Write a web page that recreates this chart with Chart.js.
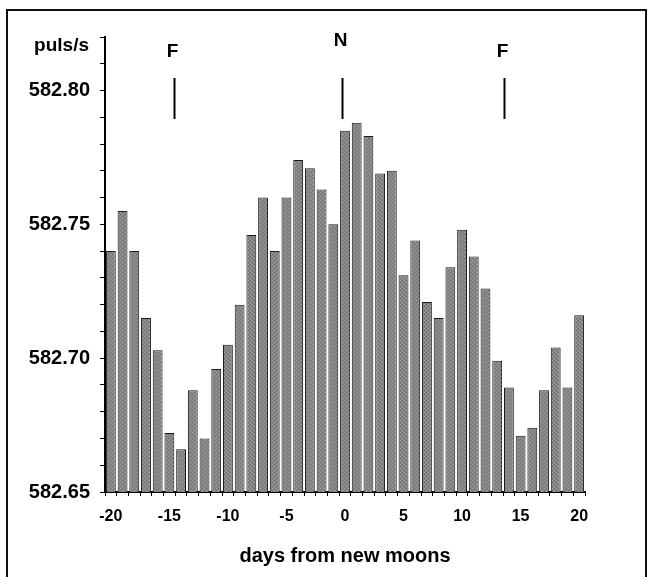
<!DOCTYPE html>
<html>
<head>
<meta charset="utf-8">
<script src="https://cdn.jsdelivr.net/npm/chart.js@4/dist/chart.umd.min.js"></script>
<style>
    html, body { margin: 0; padding: 0; background: #fff; overflow: hidden; }
    #wrap { position: relative; width: 651px; height: 577px; }
    #frame { position: absolute; left: 6px; top: 9px; width: 641px; height: 600px; border: 2px solid #111; box-sizing: border-box; pointer-events: none; }
    canvas { position: absolute; left: 0; top: 0; }
</style>
</head>
<body>
<div id="wrap">
    <canvas id="chart" width="651" height="577"></canvas>
    <div id="frame"></div>
</div>
<script>
// days from new moon
const days = [-20, -19, -18, -17, -16, -15, -14, -13, -12, -11, -10, -9, -8, -7, -6, -5, -4, -3, -2, -1,
    0, 1, 2, 3, 4, 5, 6, 7, 8, 9, 10, 11, 12, 13, 14, 15, 16, 17, 18, 19, 20];

// pulsar rate, puls/s
const pulseRate = [582.740, 582.755, 582.740, 582.715, 582.703, 582.672, 582.666, 582.688, 582.670, 582.696,
    582.705, 582.720, 582.746, 582.760, 582.740, 582.760, 582.774, 582.771, 582.763, 582.750,
    582.785, 582.788, 582.783, 582.769, 582.770, 582.731, 582.744, 582.721, 582.715, 582.734,
    582.748, 582.738, 582.726, 582.699, 582.689, 582.671, 582.674, 582.688, 582.704, 582.689,
    582.716];

const xTickLabels = [-20, -15, -10, -5, 0, 5, 10, 15, 20];
const yTickLabels = [582.65, 582.70, 582.75, 582.80];

// moon phase markers (full / new)
const markerDays = [-14.6, -0.25, 13.55];
const markerLabels = ['F', 'N', 'F'];

const FONT = "'Liberation Sans', Arial, sans-serif";

// dithered grey fill like the scanned bars
function barPattern() {
    const c = document.createElement('canvas');
    c.width = 4;
    c.height = 4;
    const g = c.getContext('2d');
    g.fillStyle = '#858585';
    g.fillRect(0, 0, 4, 4);
    g.fillStyle = '#a0a0a0';
    g.fillRect(0, 0, 1, 1);
    g.fillRect(2, 2, 1, 1);
    g.fillStyle = '#6e6e6e';
    g.fillRect(2, 0, 1, 1);
    g.fillRect(0, 2, 1, 1);
    return g.createPattern(c, 'repeat');
}

const markersPlugin = {
    id: 'moonMarkers',
    afterDatasetsDraw(chart) {
        const {ctx, scales: {x}} = chart;
        ctx.save();
        ctx.strokeStyle = '#000';
        ctx.fillStyle = '#000';
        ctx.lineWidth = 2;
        ctx.textAlign = 'center';
        ctx.textBaseline = 'middle';
        markerDays.forEach((d, i) => {
            const px = Math.round(x.getPixelForValue(d - days[0])) + 0.5;
            ctx.beginPath();
            ctx.moveTo(px, 78);
            ctx.lineTo(px, 119);
            ctx.stroke();
            ctx.font = 'bold 19px ' + FONT;
            ctx.fillText(markerLabels[i], px - 2, markerLabels[i] === 'N' ? 41 : 52);
        });
        // y axis unit, placed above the value labels
        ctx.textAlign = 'right';
        ctx.font = 'bold 19px ' + FONT;
        ctx.fillText('puls/s', 89, 46);
        ctx.restore();
    }
};

new Chart(document.getElementById('chart'), {
    type: 'bar',
    data: {
        labels: days,
        datasets: [{
            data: pulseRate,
            backgroundColor: barPattern(),
            borderColor: '#1a1a1a',
            borderWidth: 1,
            barPercentage: 0.84,
            categoryPercentage: 1.0
        }]
    },
    options: {
        responsive: false,
        animation: false,
        devicePixelRatio: 1,
        layout: {padding: {top: 37, right: 66, left: 0, bottom: 0}},
        plugins: {legend: {display: false}, tooltip: {enabled: false}},
        scales: {
            x: {
                afterFit: (s) => { s.height = 85; },
                grid: {drawOnChartArea: false, tickLength: 4, color: '#000', lineWidth: 1},
                border: {color: '#000', width: 2},
                ticks: {
                    autoSkip: false,
                    maxRotation: 0,
                    padding: 11,
                    color: '#000',
                    font: {family: FONT, size: 16, weight: 'bold'},
                    callback: (v, i) => xTickLabels.includes(days[i]) ? String(days[i]) : ''
                },
                title: {
                    display: true,
                    text: 'days from new moons',
                    color: '#000',
                    font: {family: FONT, size: 20, weight: 'bold'},
                    padding: {top: 0, bottom: 9}
                }
            },
            y: {
                min: 582.65,
                max: 582.82,
                afterFit: (s) => { s.width = 105; },
                grid: {drawOnChartArea: false, tickLength: 5, color: '#000', lineWidth: 1},
                border: {color: '#000', width: 2},
                ticks: {
                    stepSize: 0.01,
                    autoSkip: false,
                    padding: 10,
                    color: '#000',
                    font: {family: FONT, size: 20, weight: 'bold'},
                    callback: (v) => yTickLabels.some(t => Math.abs(t - v) < 1e-6) ? v.toFixed(2) : ''
                }
            }
        }
    },
    plugins: [markersPlugin]
});
</script>
</body>
</html>
